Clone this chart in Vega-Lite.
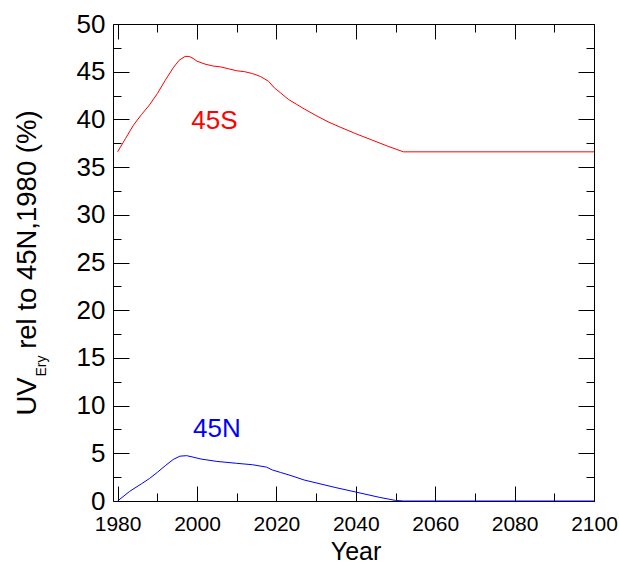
{
  "$schema": "https://vega.github.io/schema/vega-lite/v6.json",
  "autosize": "none",
  "width": 481,
  "height": 477,
  "padding": {"left": 113, "top": 24, "right": 25, "bottom": 62},
  "background": "white",
  "config": {
    "view": {"stroke": null},
    "font": "Liberation Sans",
    "axis": {"grid": false, "domainColor": "black", "tickColor": "black", "labelColor": "black", "titleColor": "black", "labelFont": "Liberation Sans", "titleFont": "Liberation Sans", "titleFontWeight": "normal", "domainWidth": 1, "tickWidth": 1, "labelFlush": false, "labelOverlap": false}
  },
  "datasets": {
    "curves": [
      {"year": 1980, "value": 36.6, "series": "45S"},
      {"year": 1982, "value": 38.0, "series": "45S"},
      {"year": 1984, "value": 39.4, "series": "45S"},
      {"year": 1986, "value": 40.5, "series": "45S"},
      {"year": 1988, "value": 41.5, "series": "45S"},
      {"year": 1990, "value": 42.7, "series": "45S"},
      {"year": 1992, "value": 44.1, "series": "45S"},
      {"year": 1994, "value": 45.4, "series": "45S"},
      {"year": 1995.5, "value": 46.2, "series": "45S"},
      {"year": 1997, "value": 46.6, "series": "45S"},
      {"year": 1998, "value": 46.6, "series": "45S"},
      {"year": 1999, "value": 46.4, "series": "45S"},
      {"year": 2000, "value": 46.1, "series": "45S"},
      {"year": 2002, "value": 45.8, "series": "45S"},
      {"year": 2004, "value": 45.6, "series": "45S"},
      {"year": 2006, "value": 45.5, "series": "45S"},
      {"year": 2008, "value": 45.3, "series": "45S"},
      {"year": 2010, "value": 45.1, "series": "45S"},
      {"year": 2012, "value": 45.0, "series": "45S"},
      {"year": 2014, "value": 44.8, "series": "45S"},
      {"year": 2016, "value": 44.5, "series": "45S"},
      {"year": 2018, "value": 44.0, "series": "45S"},
      {"year": 2019.5, "value": 43.3, "series": "45S"},
      {"year": 2021, "value": 42.8, "series": "45S"},
      {"year": 2023, "value": 42.1, "series": "45S"},
      {"year": 2025, "value": 41.6, "series": "45S"},
      {"year": 2027, "value": 41.1, "series": "45S"},
      {"year": 2030, "value": 40.4, "series": "45S"},
      {"year": 2033, "value": 39.75, "series": "45S"},
      {"year": 2036, "value": 39.2, "series": "45S"},
      {"year": 2040, "value": 38.5, "series": "45S"},
      {"year": 2044, "value": 37.85, "series": "45S"},
      {"year": 2048, "value": 37.2, "series": "45S"},
      {"year": 2052, "value": 36.6, "series": "45S"},
      {"year": 2100, "value": 36.6, "series": "45S"},
      {"year": 1980, "value": 0, "series": "45N"},
      {"year": 1983, "value": 1.0, "series": "45N"},
      {"year": 1986, "value": 1.8, "series": "45N"},
      {"year": 1988, "value": 2.35, "series": "45N"},
      {"year": 1990, "value": 3.0, "series": "45N"},
      {"year": 1992, "value": 3.7, "series": "45N"},
      {"year": 1994, "value": 4.35, "series": "45N"},
      {"year": 1995.7, "value": 4.7, "series": "45N"},
      {"year": 1997.4, "value": 4.75, "series": "45N"},
      {"year": 1999, "value": 4.6, "series": "45N"},
      {"year": 2001, "value": 4.4, "series": "45N"},
      {"year": 2005, "value": 4.15, "series": "45N"},
      {"year": 2010, "value": 3.95, "series": "45N"},
      {"year": 2014, "value": 3.8, "series": "45N"},
      {"year": 2017.5, "value": 3.55, "series": "45N"},
      {"year": 2019, "value": 3.25, "series": "45N"},
      {"year": 2021, "value": 3.0, "series": "45N"},
      {"year": 2023.4, "value": 2.7, "series": "45N"},
      {"year": 2027, "value": 2.2, "series": "45N"},
      {"year": 2031, "value": 1.8, "series": "45N"},
      {"year": 2035, "value": 1.4, "series": "45N"},
      {"year": 2040, "value": 0.94, "series": "45N"},
      {"year": 2046, "value": 0.38, "series": "45N"},
      {"year": 2050, "value": 0.06, "series": "45N"},
      {"year": 2052, "value": 0, "series": "45N"},
      {"year": 2100, "value": 0, "series": "45N"}
    ],
    "labels": [
      {"year": 2004.4, "value": 39.0, "series": "45S", "label": "45S"},
      {"year": 2005.0, "value": 6.7, "series": "45N", "label": "45N"}
    ]
  },
  "data": {"name": "curves"},
  "resolve": {"axis": {"x": "independent", "y": "independent"}},
  "layer": [
    {
      "mark": {"type": "line", "strokeWidth": 1},
      "encoding": {
        "x": {"field": "year", "type": "quantitative", "scale": {"domain": [1978.84, 2100], "nice": false, "zero": false},
          "axis": {"orient": "bottom", "values": [1980, 2000, 2020, 2040, 2060, 2080, 2100], "format": "d", "tickSize": -15, "labelPadding": 27, "labelFontSize": 21, "title": "Year", "titleFontSize": 25, "titleX": 242.5, "titleY": 58, "titleAlign": "center", "titleBaseline": "alphabetic", "domain": true}},
        "y": {"field": "value", "type": "quantitative", "scale": {"domain": [0, 50], "nice": false, "zero": false},
          "axis": {"orient": "left", "values": [0, 5, 10, 15, 20, 25, 30, 35, 40, 45, 50], "format": "d", "tickSize": -16, "labelPadding": 24, "labelFontSize": 26, "title": "UV\u00a0\u00a0\u00a0\u2009rel to 45N,1980 (%)", "titleFontSize": 27.5, "titleAngle": 270, "titleAlign": "left", "titleBaseline": "alphabetic", "titleX": -78, "titleY": 391, "domain": true}},
        "color": {"field": "series", "type": "nominal", "scale": {"domain": ["45S", "45N"], "range": ["#ff0000", "#0000ff"]}, "legend": null},
        "detail": {"field": "series"}
      }
    },
    {
      "data": {"name": "labels"},
      "mark": {"type": "text", "fontSize": 26, "align": "center", "baseline": "alphabetic", "font": "Liberation Sans"},
      "encoding": {
        "x": {"field": "year", "type": "quantitative", "axis": {"orient": "bottom", "values": [1990, 2010, 2030, 2050, 2070, 2090], "tickSize": -8, "labels": false, "domain": false, "title": null}},
        "y": {"field": "value", "type": "quantitative", "axis": {"orient": "left", "values": [2.5, 7.5, 12.5, 17.5, 22.5, 27.5, 32.5, 37.5, 42.5, 47.5], "tickSize": -8, "labels": false, "domain": false, "title": null}},
        "text": {"field": "label"},
        "color": {"field": "series", "type": "nominal", "legend": null}
      }
    },
    {
      "mark": {"type": "point", "opacity": 0},
      "encoding": {
        "x": {"field": "year", "type": "quantitative", "axis": {"orient": "top", "values": [1980, 2000, 2020, 2040, 2060, 2080, 2100], "tickSize": -15, "labels": false, "domain": true, "title": null}},
        "y": {"field": "value", "type": "quantitative", "axis": {"orient": "right", "values": [0, 5, 10, 15, 20, 25, 30, 35, 40, 45, 50], "tickSize": -16, "labels": false, "domain": true, "title": null}}
      }
    },
    {
      "mark": {"type": "point", "opacity": 0},
      "encoding": {
        "x": {"field": "year", "type": "quantitative", "axis": {"orient": "top", "values": [1990, 2010, 2030, 2050, 2070, 2090], "tickSize": -8, "labels": false, "domain": false, "title": null}},
        "y": {"field": "value", "type": "quantitative", "axis": {"orient": "right", "values": [2.5, 7.5, 12.5, 17.5, 22.5, 27.5, 32.5, 37.5, 42.5, 47.5], "tickSize": -8, "labels": false, "domain": false, "title": null}}
      }
    },
    {
      "mark": {"type": "point", "opacity": 0},
      "encoding": {
        "x": {"field": "year", "type": "quantitative", "axis": null},
        "y": {"field": "value", "type": "quantitative", "axis": {"orient": "left", "values": [], "ticks": false, "labels": false, "domain": false, "title": "Ery", "titleFontSize": 14, "titleAngle": 270, "titleAlign": "left", "titleBaseline": "alphabetic", "titleX": -68, "titleY": 352}}
      }
    }
  ]
}
